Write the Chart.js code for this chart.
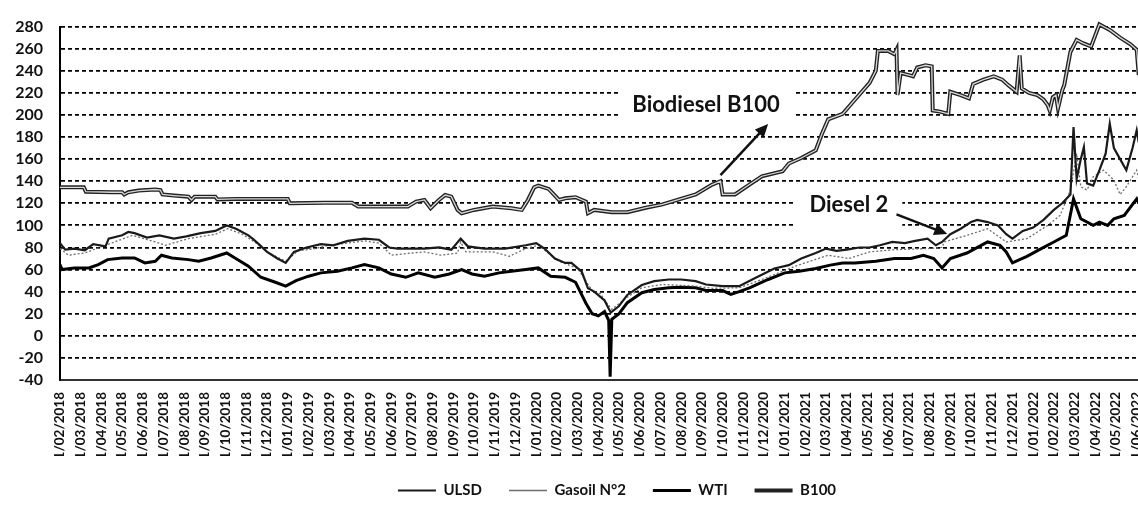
<!DOCTYPE html>
<html>
<head>
<meta charset="utf-8">
<script src="https://cdn.jsdelivr.net/npm/chart.js@4"></script>
<style>
  html, body { margin: 0; padding: 0; background: #fff; overflow: hidden; }
</style>
</head>
<body>
<canvas id="grafico" width="1244" height="513"></canvas>
<script>
// etiquetas del eje x (un tick por mes, 0 = 1/02/2018)
var etiquetas = [
  '1/02/2018','1/03/2018','1/04/2018','1/05/2018','1/06/2018','1/07/2018','1/08/2018','1/09/2018','1/10/2018','1/11/2018','1/12/2018',
  '1/01/2019','1/02/2019','1/03/2019','1/04/2019','1/05/2019','1/06/2019','1/07/2019','1/08/2019','1/09/2019','1/10/2019','1/11/2019','1/12/2019',
  '1/01/2020','1/02/2020','1/03/2020','1/04/2020','1/05/2020','1/06/2020','1/07/2020','1/08/2020','1/09/2020','1/10/2020','1/11/2020','1/12/2020',
  '1/01/2021','1/02/2021','1/03/2021','1/04/2021','1/05/2021','1/06/2021','1/07/2021','1/08/2021','1/09/2021','1/10/2021','1/11/2021','1/12/2021',
  '1/01/2022','1/02/2022','1/03/2022','1/04/2022','1/05/2022','1/06/2022'
];
var ticksY = [-40, -20, 0, 20, 40, 60, 80, 100, 120, 140, 160, 180, 200, 220, 240, 260, 280];

// series: [mes, valor]  (mes fraccionario desde 1/02/2018)
var ulsd = [[0,84],[0.25,78],[0.7,79],[1.2,77.5],[1.6,83],[2.2,81],[2.35,88],[3.0,91],[3.3,94],[3.6,93],[4.2,89],[4.8,91],[5.5,88],[6.1,90],[6.8,93],[7.5,95],[8.05,100],[8.5,97],[9.1,91],[9.3,88],[9.6,83],[10.0,76],[10.5,70],[10.9,66],[11.3,76],[11.9,80],[12.6,83],[13.2,82],[13.9,86],[14.7,88],[15.4,87],[15.9,80],[16.3,79],[17.0,79],[17.6,79],[18.3,80],[18.9,78],[19.35,88],[19.7,81],[20.5,79],[21.5,79],[22.5,82],[23.0,84],[23.4,79],[23.9,70],[24.4,66],[24.7,66],[25.2,58],[25.5,43],[25.8,40],[26.3,32],[26.6,21],[27.0,27],[27.4,37],[28.1,46],[28.7,49.5],[29.4,51],[30.0,51],[30.7,49.5],[31.2,46.5],[32.0,45],[32.8,45],[33.6,52.5],[34.5,61],[35.2,64],[35.8,70],[36.5,75],[37.0,79],[37.5,77],[38.0,78],[38.6,80],[39.1,80],[39.6,82],[40.2,85],[40.8,84],[41.3,86],[41.9,88],[42.3,82],[42.6,85],[43.0,92],[43.5,97],[44.0,103],[44.3,105],[44.8,103],[45.3,100],[45.7,92],[46.0,88],[46.5,95],[47.0,98],[47.5,105],[48.0,114],[48.4,120],[48.8,128],[48.95,189],[49.1,142],[49.3,160],[49.45,171],[49.6,138],[49.9,136],[50.2,150],[50.5,165],[50.7,192],[50.9,170],[51.2,160],[51.5,150],[51.8,170],[52.0,186],[52.1,175]];

var gasoil = [[0,79],[0.4,73],[1.2,75],[2.2,82],[3.5,91],[4.6,85],[5.1,82],[6.2,88],[7.5,92],[8.1,97],[8.8,92],[9.4,85],[10.1,75],[10.9,67.5],[11.5,77],[12.3,79],[13.0,82],[13.9,84],[14.7,86],[15.4,84],[16.0,73],[17.0,75],[17.6,76],[18.4,73],[19.2,75],[19.35,85],[19.6,76],[20.9,76],[21.7,72],[22.5,79],[23.1,82],[24.1,67.5],[25.0,61],[25.7,41],[26.1,38],[26.4,30],[26.65,24],[27.4,35],[28.1,43.5],[29.1,46.5],[30.7,45],[31.5,43],[32.8,43.5],[33.9,51],[35.5,63],[37.1,73],[38.1,70],[39.1,76],[40.3,78],[41.9,79],[42.6,80],[42.7,85],[43.8,91],[44.8,97],[45.7,85],[46.7,88],[47.7,100],[48.3,109],[48.8,132],[49.1,165],[49.3,135],[49.6,132],[49.9,144],[50.4,150],[50.9,141],[51.2,128],[51.5,135],[52.0,150],[52.1,142]];

var wti = [[0,64.5],[0.1,60],[0.7,61.5],[1.4,61.5],[1.85,64.5],[2.3,69],[3.0,70.5],[3.6,70.5],[4.1,66],[4.6,67.5],[4.9,73],[5.4,70.5],[6.2,69],[6.7,67.5],[7.3,70.5],[8.05,75],[8.45,70.5],[9.1,63],[9.7,53],[10.4,48.5],[10.9,45],[11.4,50],[12.0,54],[12.6,57],[13.4,58.5],[14.1,61.5],[14.7,64.5],[15.4,61.5],[16.0,56],[16.7,53],[17.3,57],[18.1,53],[18.8,56],[19.4,60],[19.9,56],[20.5,54],[21.2,57],[21.8,58.5],[22.5,60],[23.1,61.5],[23.7,54],[24.4,53],[24.9,48.5],[25.4,29.5],[25.7,20],[26.0,18],[26.3,22],[26.5,14],[26.57,-37],[26.65,15],[27.0,20],[27.4,30],[28.1,39],[28.7,42],[29.4,43.5],[30.0,44],[30.7,43.5],[31.2,41],[32.0,41],[32.4,37.5],[32.8,40],[33.3,43.5],[34.2,51],[35.0,57],[35.7,58.5],[36.5,61],[37.2,64],[37.8,66],[38.4,66],[39.4,67.5],[40.3,70],[41.1,70],[41.7,73],[42.2,70],[42.6,61.5],[43.0,70],[43.8,75],[44.8,85],[45.4,82],[45.7,76],[46.0,66],[46.7,72],[47.3,78],[48.0,85],[48.6,91],[48.95,124],[49.3,106],[49.9,100],[50.2,103],[50.6,100],[50.9,106],[51.4,109],[52.0,124],[52.1,120]];

var b100 = [[0,134.5],[1.15,134.5],[1.25,130.5],[2.5,130],[3.0,130],[3.1,128],[3.3,130],[3.8,131.5],[4.6,132.5],[4.85,132],[4.95,128],[5.5,127],[6.2,126],[6.35,123],[6.5,126],[7.5,126],[7.6,123.5],[8.5,124],[9.5,124],[11.0,124],[11.1,120],[12.8,120.5],[14.1,120.5],[14.4,117],[16.8,117],[17.2,121.5],[17.6,123],[17.9,115.5],[18.3,123],[18.6,127.5],[18.9,126],[19.2,114],[19.4,111],[20.0,114],[20.9,117],[21.8,115.5],[22.3,114],[22.6,123],[22.9,134.5],[23.1,136],[23.6,133],[24.1,123],[24.4,124.5],[24.9,125.5],[25.4,121.5],[25.5,111],[25.8,114],[26.65,112],[27.4,112],[28.3,116],[29.1,119],[29.9,123.5],[30.7,128],[31.5,137],[31.9,140],[32.0,128],[32.6,128],[33.3,137],[33.9,144.5],[34.9,149],[35.2,156],[35.8,161],[36.5,168],[36.8,183],[37.1,196],[37.8,201],[38.4,214],[39.1,229],[39.4,240],[39.5,258],[40.0,258],[40.3,255],[40.4,259],[40.45,218],[40.6,238],[41.0,236],[41.2,235],[41.4,243],[41.8,245],[42.1,244],[42.15,204],[42.5,203],[42.9,201],[43.0,221],[43.5,218],[43.9,215],[44.1,228],[44.6,232],[45.1,235],[45.5,232],[45.8,227],[46.2,221],[46.35,254],[46.45,224],[46.8,220],[47.2,218],[47.5,214],[47.7,209],[47.8,204],[47.95,216],[48.1,218],[48.2,206],[48.4,222],[48.5,227],[48.8,257],[49.1,268],[49.4,265],[49.8,262],[50.2,282],[50.5,279],[50.7,277],[51.2,270],[51.7,264],[52.0,259],[52.1,236]];

// textos y flechas del grafico (en unidades de datos)
var notas = [
  { texto: 'Biodiesel B100', t: 31.2, v: 209.5, flecha: [31.9, 145.5, 34.2, 191.7] },
  { texto: 'Diesel 2', t: 38.1, v: 118.8, flecha: [40.4, 110, 42.85, 92.2] }
];

var fuente = 'Lato, "Open Sans", sans-serif';

function puntos(serie) {
  return serie.map(function (p) { return { x: p[0], y: p[1] }; });
}

var pluginNotas = {
  id: 'notas',
  beforeDatasetsDraw: function (chart) {
    // caja blanca detras del texto (corta las lineas de la grilla)
    var ctx = chart.ctx;
    ctx.save();
    ctx.font = 'bold 22px ' + fuente;
    notas.forEach(function (n) {
      var x = chart.scales.x.getPixelForValue(n.t);
      var y = chart.scales.y.getPixelForValue(n.v);
      var w = ctx.measureText(n.texto).width;
      ctx.fillStyle = '#fff';
      ctx.fillRect(x - w / 2 - 14, y - 22, w + 28, 44);
    });
    ctx.restore();
  },
  afterDatasetsDraw: function (chart) {
    var ctx = chart.ctx;
    var sx = chart.scales.x, sy = chart.scales.y;
    ctx.save();
    ctx.font = 'bold 22px ' + fuente;
    ctx.fillStyle = '#111';
    ctx.textAlign = 'center';
    ctx.textBaseline = 'middle';
    notas.forEach(function (n) {
      ctx.fillText(n.texto, sx.getPixelForValue(n.t), sy.getPixelForValue(n.v));
      var x1 = sx.getPixelForValue(n.flecha[0]), y1 = sy.getPixelForValue(n.flecha[1]);
      var x2 = sx.getPixelForValue(n.flecha[2]), y2 = sy.getPixelForValue(n.flecha[3]);
      var ang = Math.atan2(y2 - y1, x2 - x1);
      ctx.strokeStyle = '#111';
      ctx.lineWidth = 2.5;
      ctx.beginPath();
      ctx.moveTo(x1, y1);
      ctx.lineTo(x2 - 8 * Math.cos(ang), y2 - 8 * Math.sin(ang));
      ctx.stroke();
      ctx.beginPath();
      ctx.moveTo(x2, y2);
      ctx.lineTo(x2 - 13 * Math.cos(ang) + 6 * Math.sin(ang), y2 - 13 * Math.sin(ang) - 6 * Math.cos(ang));
      ctx.lineTo(x2 - 13 * Math.cos(ang) - 6 * Math.sin(ang), y2 - 13 * Math.sin(ang) + 6 * Math.cos(ang));
      ctx.closePath();
      ctx.fill();
    });
    ctx.restore();
  }
};

var grafico = new Chart(document.getElementById('grafico'), {
  type: 'line',
  data: {
    datasets: [{
      // relleno claro del B100 (linea doble)
      label: '',
      data: puntos(b100),
      borderColor: '#d8d8d8',
      borderWidth: 1.3,
      pointRadius: 0,
      tension: 0,
      clip: 6
    }, {
      label: 'ULSD',
      data: puntos(ulsd),
      borderColor: '#1a1a1a',
      borderWidth: 2.2,
      pointRadius: 0,
      tension: 0
    }, {
      label: 'Gasoil N°2',
      data: puntos(gasoil),
      borderColor: '#6e6e6e',
      borderWidth: 1.3,
      borderDash: [2, 2],
      pointRadius: 0,
      tension: 0
    }, {
      label: 'WTI',
      data: puntos(wti),
      borderColor: '#000',
      borderWidth: 3,
      pointRadius: 0,
      tension: 0
    }, {
      label: 'B100',
      data: puntos(b100),
      borderColor: '#222',
      borderWidth: 4,
      pointRadius: 0,
      tension: 0,
      clip: 6
    }]
  },
  options: {
    responsive: false,
    animation: false,
    devicePixelRatio: 1,
    layout: { padding: { top: 20, right: 10, bottom: 5, left: 0 } },
    plugins: {
      tooltip: { enabled: false },
      legend: {
        position: 'bottom',
        labels: {
          usePointStyle: true,
          pointStyle: 'line',
          pointStyleWidth: 38,
          padding: 27,
          color: '#111',
          font: { family: fuente, weight: 'bold', size: 15 },
          filter: function (item) { return item.text !== ''; }
        }
      }
    },
    scales: {
      x: {
        type: 'linear',
        min: 0,
        max: 56.7,
        afterFit: function (s) { s.height = 76; },
        grid: { display: false },
        border: { display: true, color: '#333', width: 2 },
        ticks: {
          stepSize: 1,
          autoSkip: false,
          includeBounds: false,
          minRotation: 90,
          maxRotation: 90,
          padding: 4,
          color: '#111',
          font: { family: fuente, weight: 'bold', size: 13.5 },
          callback: function (v) { return etiquetas[v] || ''; }
        }
      },
      y: {
        min: ticksY[0],
        max: ticksY[ticksY.length - 1],
        afterFit: function (s) { s.width = 60; },
        grid: { color: '#000', lineWidth: 1.8, drawTicks: false },
        border: { display: true, color: '#000', width: 2, dash: [4, 3] },
        ticks: {
          stepSize: 20,
          autoSkip: false,
          padding: 17,
          color: '#111',
          font: { family: fuente, weight: 'bold', size: 16 }
        }
      }
    }
  },
  plugins: [pluginNotas]
});
</script>
</body>
</html>
